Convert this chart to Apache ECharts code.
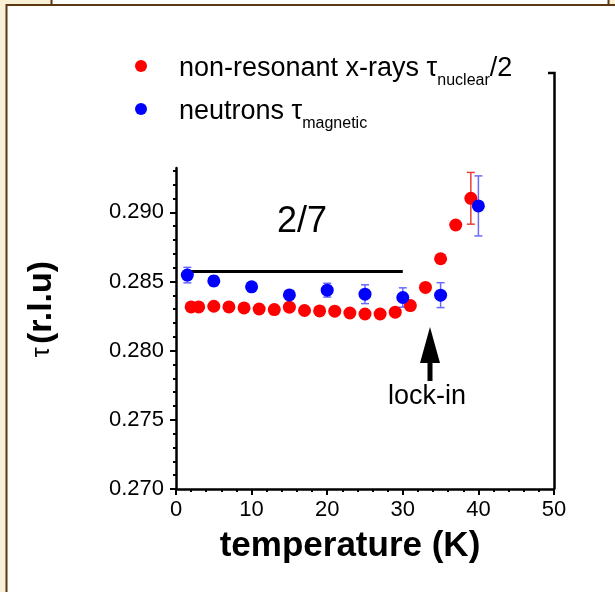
<!DOCTYPE html>
<html><head><meta charset="utf-8">
<script src="https://cdn.jsdelivr.net/npm/echarts@6/dist/echarts.min.js"></script>
<style>html,body{margin:0;padding:0;background:#fff}#c{width:615px;height:592px}</style>
</head><body><div id="c"></div>
<script>
// ---- data ----
const xrayTemp = [2, 3, 5, 7, 9, 11, 13, 15, 17, 19, 21, 23, 25, 27, 29, 31, 33, 35, 37, 39];
const xrayTau = [0.28316, 0.28316, 0.28321, 0.28316, 0.28309, 0.28301, 0.28297, 0.28314, 0.28290, 0.28287,
                 0.28285, 0.28272, 0.28265, 0.28265, 0.28278, 0.28326, 0.28457, 0.28664, 0.28908, 0.29101];
const xrayErr = [0, 0, 0, 0, 0, 0, 0, 0, 0, 0, 0, 0, 0, 0, 0, 0, 0, 0, 0, 0.00187];
const neutronTemp = [1.5, 5, 10, 15, 20, 25, 30, 35, 40];
const neutronTau = [0.28546, 0.28504, 0.28461, 0.28403, 0.28437, 0.28408, 0.28384, 0.28401, 0.29046];
const neutronErr = [0.00056, 0.00035, 0.0003, 0.0003, 0.0005, 0.00068, 0.0007, 0.0009, 0.00217];
const xTickLabels = [0, 10, 20, 30, 40, 50];
const yTickLabels = [0.270, 0.275, 0.280, 0.285, 0.290];
const yMinorTicks = [0.271, 0.272, 0.273, 0.274, 0.276, 0.277, 0.278, 0.279, 0.281, 0.282, 0.283, 0.284,
                     0.286, 0.287, 0.288, 0.289, 0.291, 0.292, 0.293];
const commensurateTau = 2 / 7;
const commensurateRange = [1.5, 30];

// ---- chart ----
const FONT = '"Liberation Sans", Arial, Helvetica, sans-serif';
const chart = echarts.init(document.getElementById('c'), null, {renderer: 'canvas'});

function errorSeries(temps, taus, errs, color, name) {
  const data = [];
  for (let i = 0; i < temps.length; i++) {
    if (errs[i] > 0) data.push([temps[i], taus[i] - errs[i], taus[i] + errs[i]]);
  }
  return {
    type: 'custom', name: name + ' err', silent: true, z: 3,
    renderItem: function (params, api) {
      const p1 = api.coord([api.value(0), api.value(1)]);
      const p2 = api.coord([api.value(0), api.value(2)]);
      const cw = 4;
      const st = {stroke: color, lineWidth: 1.5};
      return {type: 'group', children: [
        {type: 'line', shape: {x1: p1[0], y1: p1[1], x2: p2[0], y2: p2[1]}, style: st},
        {type: 'line', shape: {x1: p1[0] - cw, y1: p1[1], x2: p1[0] + cw, y2: p1[1]}, style: st},
        {type: 'line', shape: {x1: p2[0] - cw, y1: p2[1], x2: p2[0] + cw, y2: p2[1]}, style: st}
      ]};
    },
    data: data
  };
}

const BEIGE = '#faf0d6', BROWN = '#5c3812';

const option = {
  backgroundColor: BEIGE,
  animation: false,
  grid: {left: 176, right: 61, top: 168, bottom: 103, containLabel: false},
  legend: {
    orient: 'vertical', left: 130, top: 46,
    itemWidth: 66, itemHeight: 12, itemGap: 5,
    icon: 'circle',
    data: ['non-resonant x-rays', 'neutrons'],
    formatter: function (n) {
      return n === 'neutrons' ? '{m|neutrons τ}{s|magnetic}' : '{m|non-resonant x-rays τ}{s|nuclear}{m|/2}';
    },
    textStyle: {
      color: '#000', fontFamily: FONT,
      rich: {
        m: {fontSize: 27, lineHeight: 30, padding: [4, 0, 0, 0], verticalAlign: 'top', fontFamily: FONT, color: '#000'},
        s: {fontSize: 16, lineHeight: 16, padding: [22, 0, 0, 0], verticalAlign: 'top', fontFamily: FONT, color: '#000'}
      }
    }
  },
  xAxis: {
    type: 'value', min: 0, max: 50, interval: 10,
    name: 'temperature (K)', nameLocation: 'middle', nameGap: 40,
    nameTextStyle: {fontSize: 35, fontWeight: 'bold', color: '#000', fontFamily: FONT, padding: [0, 30, 0, 0]},
    axisLine: {show: true, onZero: false, lineStyle: {color: '#000', width: 2.5}},
    axisTick: {show: true, inside: false, length: 6, lineStyle: {color: '#000', width: 2}},
    minorTick: {show: true, splitNumber: 5, length: 3, lineStyle: {color: '#000', width: 2}},
    axisLabel: {fontSize: 22, color: '#000', fontFamily: FONT, margin: 10,
                customValues: xTickLabels, formatter: v => String(v)},
    splitLine: {show: false}
  },
  yAxis: [{
    type: 'value', min: 0.270, max: 0.2932, interval: 0.005, position: 'left',
    axisLine: {show: true, onZero: false, lineStyle: {color: '#000', width: 2.5}},
    axisTick: {show: true, inside: false, length: 6, lineStyle: {color: '#000', width: 2}, customValues: yTickLabels},
    axisLabel: {fontSize: 22, color: '#000', fontFamily: FONT, margin: 12,
                customValues: yTickLabels, formatter: v => v.toFixed(3)},
    splitLine: {show: false}
  }, {
    type: 'value', min: 0.270, max: 0.2932, interval: 0.001, position: 'left',
    axisLine: {show: false},
    axisTick: {show: true, inside: false, length: 3, lineStyle: {color: '#000', width: 2}, customValues: yMinorTicks},
    axisLabel: {show: false},
    splitLine: {show: false}
  }],
  series: [
    {
      type: 'line', name: '2/7', silent: true, z: 1, showSymbol: false, symbol: 'none',
      lineStyle: {color: '#000', width: 3},
      data: [[commensurateRange[0], commensurateTau], [commensurateRange[1], commensurateTau]]
    },
    errorSeries(xrayTemp, xrayTau, xrayErr, '#e8403a', 'xray'),
    {
      type: 'scatter', name: 'non-resonant x-rays', z: 4, symbol: 'circle', symbolSize: 13,
      itemStyle: {color: '#ff0000', opacity: 1},
      data: xrayTemp.map((t, i) => [t, xrayTau[i]])
    },
    errorSeries(neutronTemp, neutronTau, neutronErr, '#6a6aff', 'neutron'),
    {
      type: 'scatter', name: 'neutrons', z: 5, symbol: 'circle', symbolSize: 13,
      itemStyle: {color: '#0000ff', opacity: 1},
      data: neutronTemp.map((t, i) => [t, neutronTau[i]])
    }
  ],
  graphic: [
    // page frame
    {type: 'rect', z: -100, shape: {x: 52, y: 0, width: 556, height: 5}, style: {fill: '#fff'}},
    {type: 'rect', z: -100, shape: {x: 7, y: 5, width: 608, height: 587}, style: {fill: '#fff'}},
    {type: 'line', z: -99, shape: {x1: 6, y1: 5, x2: 615, y2: 5}, style: {stroke: BROWN, lineWidth: 2}},
    {type: 'line', z: -99, shape: {x1: 6.5, y1: 4, x2: 6.5, y2: 592}, style: {stroke: BROWN, lineWidth: 2}},
    {type: 'line', z: -99, shape: {x1: 51.5, y1: 0, x2: 51.5, y2: 5}, style: {stroke: BROWN, lineWidth: 2}},
    {type: 'line', z: -99, shape: {x1: 608.5, y1: 0, x2: 608.5, y2: 5}, style: {stroke: BROWN, lineWidth: 2}},
    // right frame line of the plot
    {type: 'polyline', z: 10, shape: {points: [[548, 73], [554.5, 73], [554.5, 489]]},
     style: {stroke: '#000', lineWidth: 2.5, fill: null}},
    // y axis title
    {type: 'text', z: 50, x: 42, y: 309, rotation: Math.PI / 2,
     style: {text: '{t|τ} {b|(r.l.u)}', align: 'center', verticalAlign: 'middle',
       rich: {t: {fontSize: 25, fontFamily: FONT, fill: '#000'},
              b: {fontSize: 34, fontWeight: 'bold', fontFamily: FONT, fill: '#000'}}}},
    // 2/7 label
    {type: 'text', z: 50, x: 302, y: 222,
     style: {text: '2/7', fontSize: 36, fontFamily: FONT, fill: '#000', align: 'center', verticalAlign: 'middle'}},
    // lock-in arrow and label
    {type: 'polygon', z: 50, shape: {points: [[430, 327], [440, 363], [432.5, 363], [432.5, 381], [427.5, 381], [427.5, 363], [420, 363]]},
     style: {fill: '#000'}},
    {type: 'text', z: 50, x: 427, y: 397,
     style: {text: 'lock-in', fontSize: 27, fontFamily: FONT, fill: '#000', align: 'center', verticalAlign: 'middle'}}
  ]
};
chart.setOption(option);
</script>
</body></html>
